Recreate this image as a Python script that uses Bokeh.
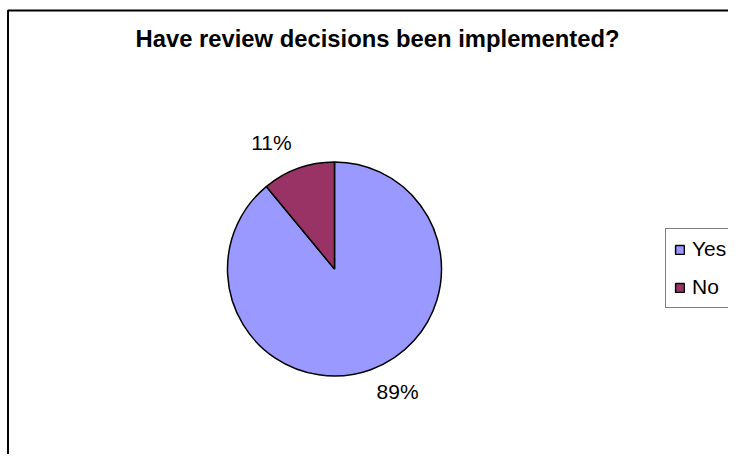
import math
from bokeh.plotting import figure
from bokeh.models import Range1d, Label, Legend, LegendItem, ColumnDataSource
from bokeh.core.properties import value
from bokeh.embed import file_html
from bokeh.resources import INLINE

categories = ["Yes", "No"]
percents = [89, 11]
colors = ["#9999FF", "#993366"]
title_text = "Have review decisions been implemented?"

W, H = 728, 454
p = figure(width=W, height=H, output_backend="svg", toolbar_location=None,
           x_range=Range1d(0, W), y_range=Range1d(0, H),
           min_border=0, min_border_left=0, min_border_right=0,
           min_border_top=0, min_border_bottom=0)
p.axis.visible = False
p.grid.visible = False
p.outline_line_color = None
p.background_fill_color = "white"
p.border_fill_color = "white"

# chart-area frame (left and top edges visible, the rest runs off the page)
p.line(x=[7.5, 7.5, W + 50], y=[-50, H - 10, H - 10], line_color="black", line_width=2)

cx, cy, r = 334, H - 268.5, 107

# slices: clockwise from 12 o'clock
total = sum(percents)
starts, ends, mids = [], [], []
cur = 90.0
for v in percents:
    span = 360.0 * v / total
    end = cur
    start = cur - span
    starts.append(math.radians(start))
    ends.append(math.radians(end))
    mids.append(cur - span / 2)
    cur = start

src = ColumnDataSource(dict(cat=categories, start=starts, end=ends, color=colors))
wr = p.wedge(x=cx, y=cy, radius=r, start_angle="start", end_angle="end",
             fill_color="color", line_color="black", line_width=1.5, source=src)

lbl_x, lbl_y, lbl_t = [], [], []
for m, v in zip(mids, percents):
    a = math.radians(m + 7)
    lbl_x.append(cx + 140 * math.cos(a))
    lbl_y.append(cy + 140 * math.sin(a) + 2)
    lbl_t.append(f"{v}%")
p.text(x=lbl_x, y=lbl_y, text=lbl_t, text_align="center", text_baseline="middle",
       text_font=value("Liberation Sans"), text_font_size="21px", text_color="black")

p.add_layout(Label(x=377, y=H - 38, text=title_text, text_align="center",
                   text_baseline="middle", text_font="Liberation Sans",
                   text_font_style="bold", text_font_size="23.8px", text_color="black"))

items = [LegendItem(label=c, renderers=[wr], index=i) for i, c in enumerate(categories)]
leg = Legend(items=items, location=(665, 146), orientation="vertical",
             label_text_font="Liberation Sans", label_text_font_size="21px",
             label_text_color="black",
             glyph_width=11, glyph_height=11, label_height=21, spacing=14,
             padding=8, margin=0, label_standoff=7,
             border_line_color="black", border_line_width=1,
             background_fill_color="white", background_fill_alpha=1)
p.add_layout(leg, "center")

open("out.html", "w").write(file_html(p, INLINE))
